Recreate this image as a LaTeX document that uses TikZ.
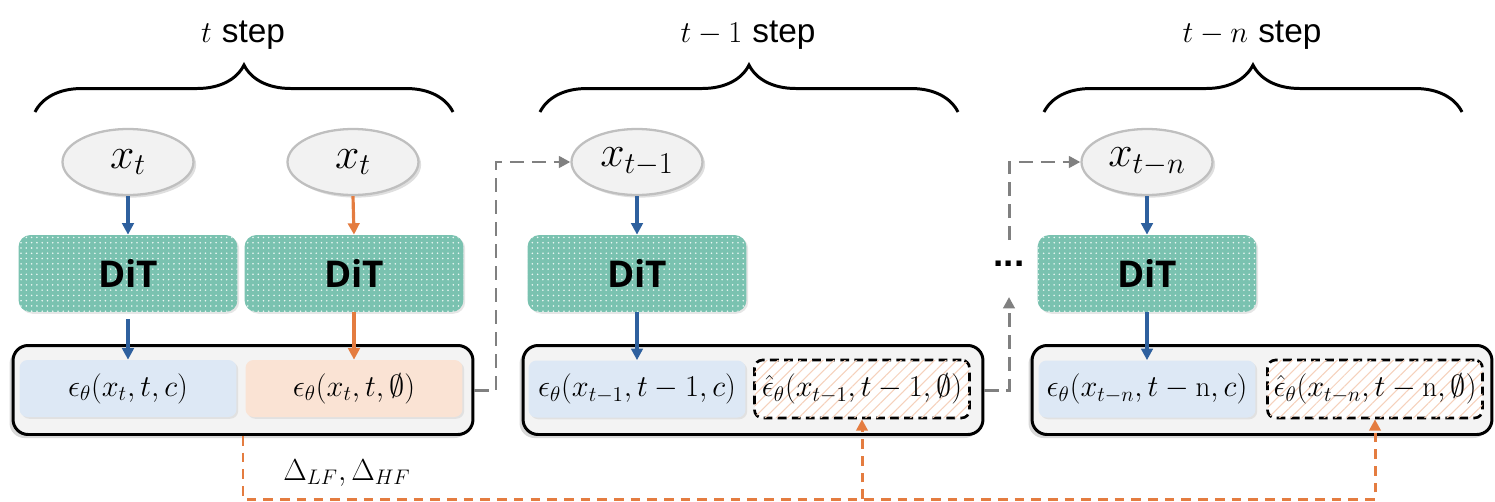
\documentclass[tikz,border=0pt]{standalone}
\usepackage{fontspec}
\setsansfont{Liberation Sans}
\newfontfamily\ditfont{Open Sans}
\usetikzlibrary{arrows.meta,shapes.geometric,shadows,patterns,patterns.meta,decorations.pathreplacing}
\definecolor{ditgreen}{RGB}{122,194,176}
\definecolor{condblue}{RGB}{221,232,245}
\definecolor{uncondorange}{RGB}{250,227,212}
\definecolor{arrblue}{RGB}{46,96,158}
\definecolor{arrorange}{RGB}{228,124,64}
\definecolor{boxgray}{RGB}{243,243,243}
\tikzset{
  latent/.style={ellipse,draw=gray!50,line width=1.3pt,fill=gray!10,minimum width=2.62cm,minimum height=1.32cm,inner sep=0pt,
    font=\fontsize{24}{26}\selectfont,drop shadow={opacity=0.25,shadow xshift=1.5pt,shadow yshift=-1.5pt}},
  dit/.style={rectangle,rounded corners=0.24cm,fill=ditgreen,postaction={pattern=dots,pattern color=white!85!ditgreen},
    minimum width=4.38cm,minimum height=1.54cm,font=\ditfont\bfseries\fontsize{21}{24}\selectfont,
    drop shadow={opacity=0.2,shadow xshift=1pt,shadow yshift=-1pt}},
  stepbox/.style={rectangle,rounded corners=0.3cm,draw=black,line width=1.7pt,fill=boxgray,
    minimum width=9.2cm,minimum height=1.78cm,drop shadow={opacity=0.3,shadow xshift=-2pt,shadow yshift=-2pt}},
  cond/.style={rectangle,rounded corners=0.16cm,fill=condblue,minimum width=4.34cm,minimum height=1.14cm,
    font=\fontsize{16.5}{18}\selectfont,drop shadow={opacity=0.15,shadow xshift=1pt,shadow yshift=-1pt}},
  uncond/.style={cond,fill=uncondorange},
  guess/.style={rectangle,rounded corners=0.16cm,draw=black,line width=1.5pt,dash pattern=on 5pt off 3pt,fill=white,
    postaction={pattern={Lines[angle=45,distance=4.5pt,line width=0.6pt]},pattern color=arrorange!35},
    minimum width=4.3cm,minimum height=1.16cm,font=\fontsize{16.5}{18}\selectfont},
  stepbrace/.style={decorate,decoration={brace,amplitude=0.94cm},line width=1.7pt},
  steplabel/.style={font=\fontsize{19}{22}\selectfont},
  bluearr/.style={->,arrblue,line width=1.8pt},
  orangearr/.style={->,arrorange,line width=1.8pt},
  graydash/.style={->,gray,line width=1.7pt,dash pattern=on 8pt off 4.5pt},
  orangedash/.style={->,arrorange,line width=1.7pt,dash pattern=on 5.5pt off 4pt}
}
\begin{document}
\begin{tikzpicture}[x=0.02cm,y=-0.02cm,>={Triangle[length=6.5pt,width=6.5pt]}]
\useasboundingbox (0,0) rectangle (1495,501);
% ba buoc: t, t-1, t-n
\draw[stepbrace] (35,112) -- (453,112);
\draw[stepbrace] (540,112) -- (958,112);
\draw[stepbrace] (1044,112) -- (1462,112);
\node[steplabel] (la) at (243,35) {$t$ \textsf{step}};
\node[steplabel] (lb) at (748,35) {$t-1$ \textsf{step}};
\node[steplabel] (lc) at (1252,35) {$t-n$ \textsf{step}};

\node[stepbox] (ca) at (243,390) {};
\node[stepbox] (cb) at (753,390) {};
\node[stepbox] (cc) at (1262,390) {};

\node[latent] (xa) at (128,162) {$x_t$};
\node[latent] (xau) at (353,162) {$x_t$};
\node[latent] (xb) at (637,162) {$x_{t-1}$};
\node[latent] (xc) at (1147,162) {$x_{t-n}$};

\node[dit] (dita) at (128,273.5) {DiT};
\node[dit] (ditau) at (354,273.5) {DiT};
\node[dit] (ditb) at (637,273.5) {DiT};
\node[dit] (ditc) at (1147,273.5) {DiT};

\node[cond] (ea) at (128,388.5) {$\epsilon_\theta(x_t,t,c)$};
\node[uncond] (eau) at (354,388.5) {$\epsilon_\theta(x_t,t,\emptyset)$};
\node[cond] (eb) at (637,389) {$\epsilon_\theta(x_{t-1},t-1,c)$};
\node[guess] (hb) at (862,389) {$\hat{\epsilon}_\theta(x_{t-1},t-1,\emptyset)$};
\node[cond] (ec) at (1147,389) {$\epsilon_\theta(x_{t-n},t-\mathrm{n},c)$};
\node[guess] (hc) at (1375,389) {$\hat{\epsilon}_\theta(x_{t-n},t-\mathrm{n},\emptyset)$};

\draw[bluearr] (xa.south) -- (dita.north);
\draw[bluearr] ([yshift=-4pt]dita.south) -- (ea.north);
\draw[orangearr] (xau.south) -- (ditau.north);
\draw[orangearr] (ditau.south) -- (eau.north);
\draw[bluearr] (xb.south) -- (ditb.north);
\draw[bluearr] (ditb.south) -- (eb.north);
\draw[bluearr] (xc.south) -- (ditc.north);
\draw[bluearr] (ditc.south) -- (ec.north);

% sang buoc sau
\coordinate (ga) at (496,390);
\draw[graydash] (ca.east) -- (ga) |- (xb.west);
\coordinate (gb) at (1009,390);
\coordinate (gc) at (1009,297);
\draw[graydash] (cb.east) -- (gb) -- (gc);
\node[font=\sffamily\bfseries\fontsize{21}{21}\selectfont] (dots) at (1009,264) {...};
\coordinate (gd) at (1009,240);
\draw[graydash] (gd) |- (xc.west);

% Delta LF, HF
\coordinate (oa) at (243,499);
\coordinate (ob) at (862,499);
\coordinate (oc) at (1375,499);
\draw[orangedash] (ca.south) -- (oa) -- (oc) -- (hc.south);
\draw[orangedash] (ob) -- (hb.south);
\node[font=\fontsize{18}{20}\selectfont] (delta) at (347,473) {$\Delta_{LF},\Delta_{HF}$};
\end{tikzpicture}
\end{document}
